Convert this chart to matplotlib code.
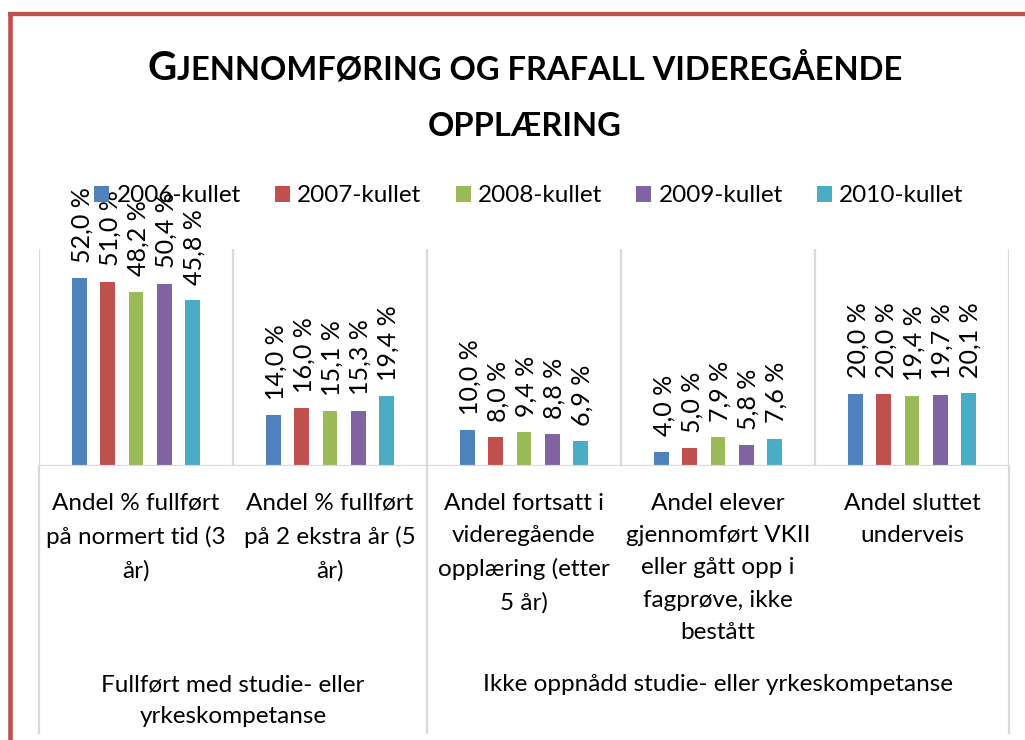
import matplotlib
matplotlib.use("Agg")
import matplotlib.pyplot as plt
from matplotlib.patches import Patch
from matplotlib.offsetbox import TextArea, HPacker, AnchoredOffsetbox
from matplotlib.lines import Line2D

# ---------------- data ----------------
categories = [
    "Andel % fullført\npå normert tid (3\når)",
    "Andel % fullført\npå 2 ekstra år (5\når)",
    "Andel fortsatt i\nvideregående\nopplæring (etter\n5 år)",
    "Andel elever\ngjennomført VKII\neller gått opp i\nfagprøve, ikke\nbestått",
    "Andel sluttet\nunderveis",
]
groups = ["Fullført med studie- eller\nyrkeskompetanse",
          "Ikke oppnådd studie- eller yrkeskompetanse"]
group_spans = [(0, 1), (2, 4)]
series = ["2006-kullet", "2007-kullet", "2008-kullet", "2009-kullet", "2010-kullet"]
v2006 = [52.0, 14.0, 10.0, 4.0, 20.0]
v2007 = [51.0, 16.0, 8.0, 5.0, 20.0]
v2008 = [48.2, 15.1, 9.4, 7.9, 19.4]
v2009 = [50.4, 15.3, 8.8, 5.8, 19.7]
v2010 = [45.8, 19.4, 6.9, 7.6, 20.1]
values = [v2006, v2007, v2008, v2009, v2010]
colors = ["#4F81BD", "#C0504D", "#9BBB59", "#8064A2", "#4BACC6"]

FONT = "Lato"
plt.rcParams["font.family"] = [FONT, "DejaVu Sans"]

W, H = 1025, 740
fig = plt.figure(figsize=(W / 100, H / 100), dpi=100)

# axes geometry (pixels)
x0, x1 = 39, 1009
ybase, ytop = 466, 249
ax = fig.add_axes([x0 / W, (H - ybase) / H, (x1 - x0) / W, (ybase - ytop) / H])
ax.set_xlim(-0.5, len(categories) - 0.5)
ax.set_ylim(0, 60)
for s in ax.spines.values():
    s.set_visible(False)
ax.set_yticks([])
ax.set_xticks([])

grid_c = "#D9D9D9"
step = 0.1455
bw = 0.077
LBL = 17.5
DLBL = 18
LS = 1.66
for j, (vals, c) in enumerate(zip(values, colors)):
    xs = [i + (j - 2) * step for i in range(len(categories))]
    ax.bar(xs, vals, width=bw, color=c, zorder=3)
    for xv, v in zip(xs, vals):
        ax.annotate(f"{v:.1f} %".replace(".", ","), xy=(xv, v), xytext=(1.5, 11),
                    textcoords="offset points", rotation=90, ha="center",
                    va="bottom", fontsize=DLBL, color="black", annotation_clip=False)

# gridlines / separators
for b in range(len(categories) + 1):
    ax.axvline(b - 0.5, color=grid_c, lw=1.6, zorder=1)
ax.axhline(0, color=grid_c, lw=1.6, zorder=4)
ybot = (ybase - 733) / (ybase - ytop)
for b in [-0.5, 1.5, len(categories) - 0.5]:
    ax.add_line(Line2D([b, b], [0, ybot], transform=ax.get_xaxis_transform(),
                       color=grid_c, lw=1.6, clip_on=False))

# category labels
for i, lab in enumerate(categories):
    ax.annotate(lab, xy=(i, 0), xycoords=("data", "axes fraction"),
                xytext=(0, -(493 - ybase) * 0.72), textcoords="offset points",
                ha="center", va="top", fontsize=LBL, linespacing=LS,
                multialignment="center")
for (a, b), g in zip(group_spans, groups):
    ax.annotate(g, xy=((a + b) / 2, 0), xycoords=("data", "axes fraction"),
                xytext=(0, -(674 - ybase) * 0.72), textcoords="offset points",
                ha="center", va="top", fontsize=LBL, linespacing=LS,
                multialignment="center")

# legend
handles = [Patch(facecolor=c, edgecolor="none") for c in colors]
fig.legend(handles, series, loc="center", bbox_to_anchor=(529 / W, 1 - 196 / H),
           ncol=5, frameon=False, fontsize=LBL, handlelength=0.62,
           handleheight=0.62, handletextpad=0.3, columnspacing=1.4,
           borderaxespad=0, borderpad=0)

# title (small caps emulation)
small, big = 23.5, 29
t1 = HPacker(children=[TextArea("G", textprops=dict(fontsize=big, fontweight="bold")),
                       TextArea("JENNOMFØRING OG FRAFALL VIDEREGÅENDE",
                                textprops=dict(fontsize=small, fontweight="bold"))],
             align="baseline", pad=0, sep=0)
fig.add_artist(AnchoredOffsetbox(loc="center", child=t1, pad=0, borderpad=0,
                                 frameon=False, bbox_to_anchor=(525 / W, 1 - 68 / H),
                                 bbox_transform=fig.transFigure))
fig.text(525 / W, 1 - 127 / H, "OPPLÆRING", fontsize=small, fontweight="bold",
         ha="center", va="center")

# red border (top and left)
bc = "#C0504D"
fig.add_artist(Line2D([9.7 / W, 9.7 / W], [0, 1 - 11.7 / H], transform=fig.transFigure,
                      color=bc, lw=3.3, solid_capstyle="butt"))
fig.add_artist(Line2D([7.5 / W, 1], [1 - 13.8 / H, 1 - 13.8 / H], transform=fig.transFigure,
                      color=bc, lw=3.1, solid_capstyle="butt"))

fig.savefig("out.png", dpi=100, facecolor="white")
